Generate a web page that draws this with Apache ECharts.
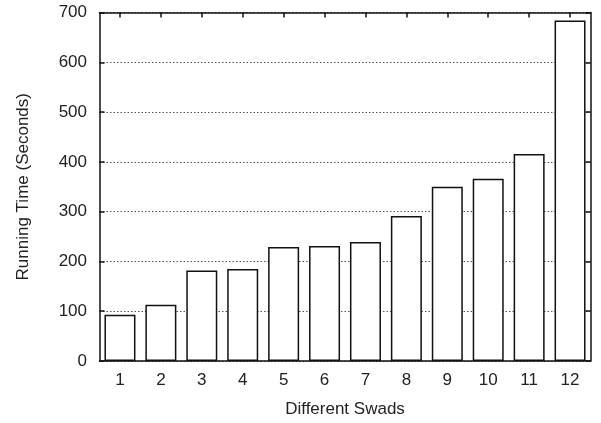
<!DOCTYPE html>
<html><head><meta charset="utf-8">
<script src="https://cdn.jsdelivr.net/npm/echarts@6/dist/echarts.min.js"></script>
<style>html,body{margin:0;padding:0;background:#fff}#c{width:601px;height:423px}</style>
</head><body><div id="c"></div>
<script>
const categories = ['1','2','3','4','5','6','7','8','9','10','11','12'];
const runningTime = [93, 113, 182, 185, 229, 231, 239, 291, 350, 366, 416, 684];
const yTicks = {min: 0, max: 700, interval: 100};

const font = 'Liberation Sans, Helvetica, Arial, sans-serif';
const chart = echarts.init(document.getElementById('c'));
const axisLine = {show: true, onZero: false, lineStyle: {color: '#111', width: 1.5}};
const tick = {show: true, inside: true, length: 5, lineStyle: {color: '#111', width: 1.5}};
chart.setOption({
  animation: false,
  grid: {left: 99.5, right: 10.5, top: 12.5, bottom: 60.7, containLabel: false},
  xAxis: [{
    type: 'category', data: categories, position: 'bottom',
    name: 'Different Swads', nameLocation: 'middle', nameGap: 40,
    nameTextStyle: {fontFamily: font, fontSize: 17, color: '#222'},
    axisLine: axisLine, axisTick: Object.assign({alignWithLabel: true}, tick),
    axisLabel: {fontFamily: font, fontSize: 17, color: '#222', margin: 11},
    splitLine: {show: false}
  }, {
    type: 'category', data: categories, position: 'top',
    axisLine: axisLine, axisTick: Object.assign({alignWithLabel: true}, tick),
    axisLabel: {show: false}, splitLine: {show: false}
  }],
  yAxis: [{
    type: 'value', min: yTicks.min, max: yTicks.max, interval: yTicks.interval, position: 'left',
    name: 'Running Time (Seconds)', nameLocation: 'middle', nameGap: 68,
    nameTextStyle: {fontFamily: font, fontSize: 17, color: '#222'},
    axisLine: axisLine, axisTick: tick,
    axisLabel: {fontFamily: font, fontSize: 17, color: '#222', margin: 12.5},
    splitLine: {show: true, lineStyle: {color: '#555', type: [1.5, 2], width: 1}}
  }, {
    type: 'value', min: yTicks.min, max: yTicks.max, interval: yTicks.interval, position: 'right',
    axisLine: axisLine, axisTick: tick, axisLabel: {show: false}, splitLine: {show: false}
  }],
  series: [{
    type: 'bar', data: runningTime, barWidth: 31, xAxisIndex: 0, yAxisIndex: 0,
    itemStyle: {color: '#fff', borderColor: '#111', borderWidth: 1.5}
  }]
});
</script></body></html>
